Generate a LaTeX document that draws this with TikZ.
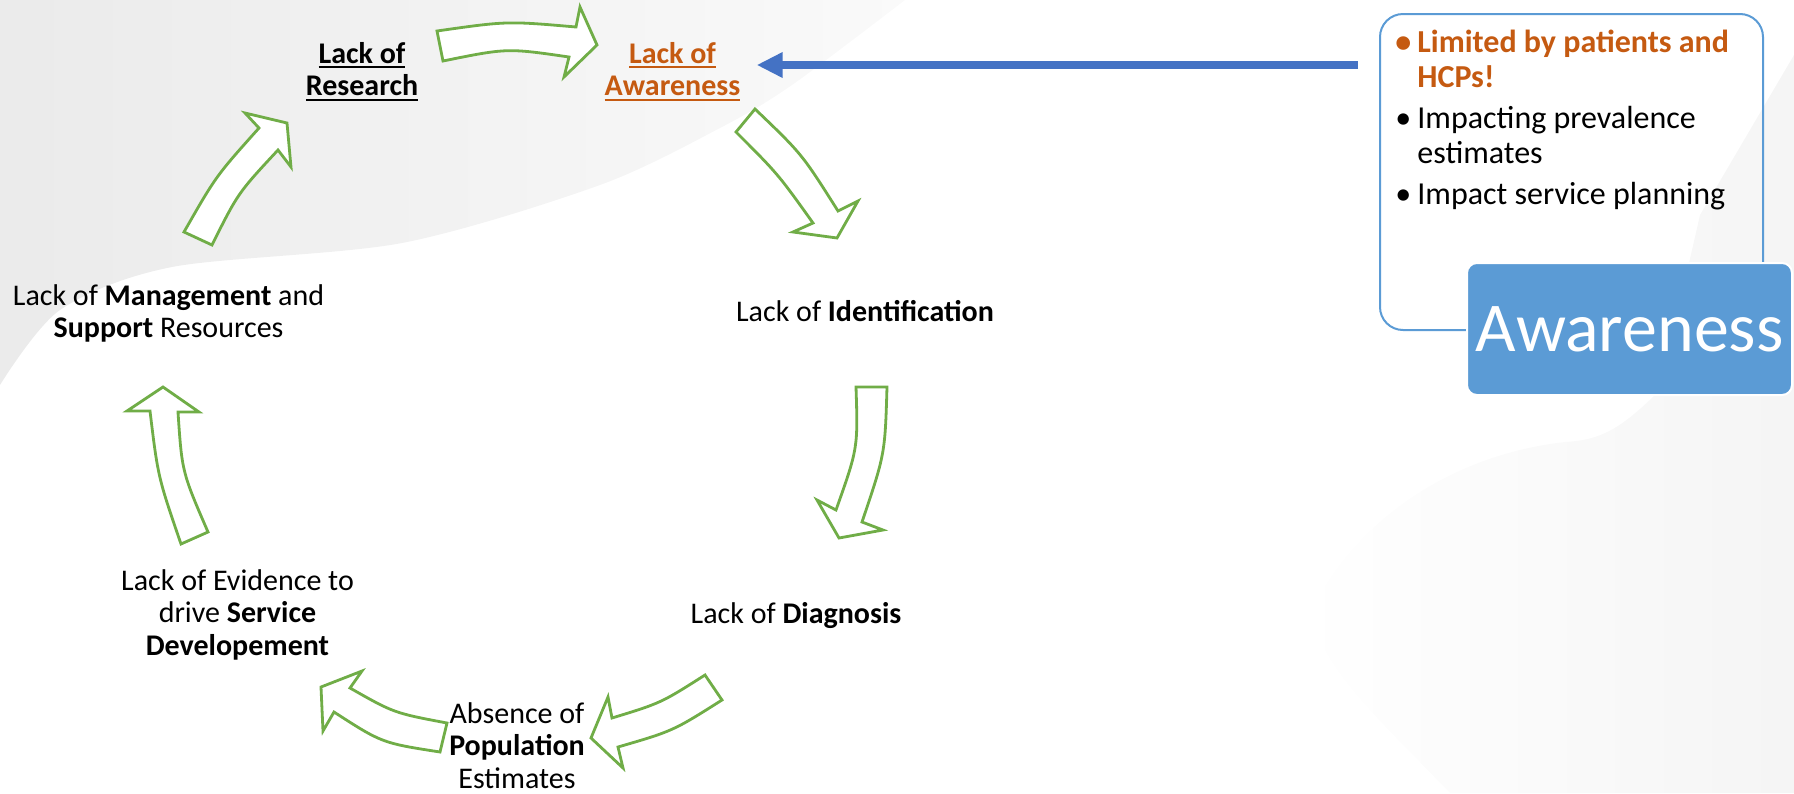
\documentclass[tikz,border=0pt]{standalone}
\usepackage{fontspec}
\setmainfont{Carlito}
\usetikzlibrary{arrows.meta}
\definecolor{cyclegreen}{HTML}{70AD47}
\definecolor{hcporange}{HTML}{C55A11}
\definecolor{linkblue}{HTML}{4472C4}
\definecolor{tagblue}{HTML}{5B9BD5}
\newcommand{\stackl}[1]{\begin{tabular}[t]{@{}c@{}}#1\end{tabular}}
\newcommand{\undl}[1]{\vtop{\hbox{#1}\kern1.5pt\hrule height 1pt}}

\begin{document}
\begin{tikzpicture}[x=0.5pt, y=-0.5pt,
	cycletext/.style={anchor=base, inner sep=0pt, font=\fontsize{15}{16.25}\selectfont},
	block/.style={draw=cyclegreen, fill=white, line width=1.4pt, line join=miter}]
		\useasboundingbox (0,0) rectangle (1794,793);
		
		% background
		\shade[left color=black!8, right color=black!2] (0,0) -- plot[smooth] coordinates {(905,0) (792,85) (720,128) (600,185) (402,243) (172,267) (60,310) (0,385)} -- cycle;
		\shade[left color=white, right color=black!4] (1794,55) -- (1700,215) -- (1660,390) .. controls (1620,430) and (1600,440) .. (1565,442) .. controls (1450,455) and (1360,520) .. (1317,600) .. controls (1300,650) and (1380,720) .. (1450,793) -- (1794,793) -- cycle;
		
		% cycle
		\node[cycletext] (research) at (362,63) {\stackl{\textbf{\undl{Lack of}}\\\textbf{\undl{Research}}}};
		\node[cycletext, text=hcporange] (aware) at (672.5,63) {\stackl{\textbf{\undl{Lack of}}\\\textbf{\undl{Awareness}}}};
		\node[cycletext] (ident) at (865,321) {Lack of \textbf{Identification}};
		\node[cycletext] (diag) at (796,623) {Lack of \textbf{Diagnosis}};
		\node[cycletext] (absence) at (517,723) {\stackl{Absence of\\\textbf{Population}\\Estimates}};
		\node[cycletext] (evidence) at (237.5,590) {\stackl{Lack of Evidence to\\drive \textbf{Service}\\\textbf{Developement}}};
		\node[cycletext] (manage) at (168.5,305) {\stackl{Lack of \textbf{Management} and\\\textbf{Support} Resources}};
		
		% block arrows
		\draw[block] (437,31) .. controls (507,21) .. (576,27) -- (580,7) -- (597,45) -- (564,77) -- (569,57) .. controls (507,48) .. (443,61) -- cycle;
		\draw[block] (755,109) .. controls (802,154) .. (838,211) -- (858,201) -- (837,238) -- (793,232) -- (813,223) .. controls (778,174) .. (736,132) -- cycle;
		\draw[block] (887,387) .. controls (885,454) .. (862,522) -- (883,530) -- (839,538) -- (817,500) -- (836,510) .. controls (858,448) .. (856,387) -- cycle;
		\draw[block] (722,700) .. controls (673,731) .. (618,747) -- (623,768) -- (591,738) -- (608,697) -- (612,718) .. controls (661,703) .. (705,675) -- cycle;
		\draw[block] (447,723) .. controls (394,713) .. (350,688) -- (362,671) -- (321,687) -- (323,731) -- (334,712) .. controls (382,743) .. (440,752) -- cycle;
		\draw[block] (181,544) .. controls (158,477) .. (150,411) -- (127,411) -- (163,387) -- (199,412) -- (178,412) .. controls (182,472) .. (208,532) -- cycle;
		\draw[block] (184,232) .. controls (216,176) .. (259,128) -- (245,113) -- (287,123) -- (291,167) -- (278,150) .. controls (238,193) .. (212,245) -- cycle;
		
		% awareness box
		\node[draw=tagblue, line width=1pt, rounded corners=11.5pt, minimum width=191.5pt, minimum height=158pt, inner sep=0pt] (notes) at (1571.5,172) {};
		\node[anchor=base west, inner sep=0pt, font=\fontsize{16}{17.5}\selectfont] (items) at (1395,52) {%
			\begin{tabular}[t]{@{}l@{}l@{}}
				\textcolor{hcporange}{\makebox[11pt][l]{\textbf{•}}} & \textcolor{hcporange}{\textbf{Limited by patients and}}\\
				& \textcolor{hcporange}{\textbf{HCPs!}}\\[3pt]
				\makebox[11pt][l]{•} & Impacting prevalence\\
				& estimates\\[3pt]
				\makebox[11pt][l]{•} & Impact service planning
			\end{tabular}};
		\node[fill=tagblue, draw=white, line width=1pt, rounded corners=5pt, minimum width=162.5pt, minimum height=66pt, text=white, font=\fontsize{35}{40}\selectfont] (tag) at (1629.5,329) {Awareness};
		
		% link
		\coordinate (feed) at (1358,65);
		\draw[linkblue, line width=4pt, -{Triangle[length=13pt,width=12pt]}] (feed) -- ([xshift=8pt]aware.east |- feed);
\end{tikzpicture}
\end{document}
